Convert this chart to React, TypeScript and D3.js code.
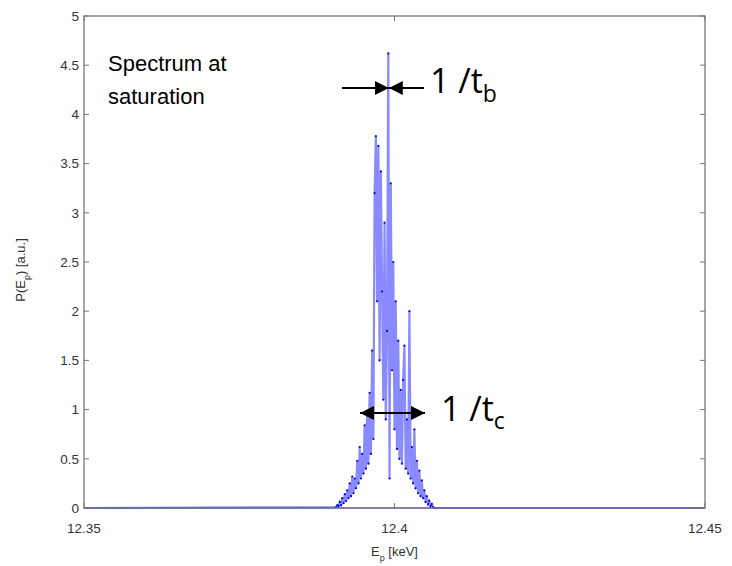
import React, { useRef, useEffect } from 'react'
import * as d3 from 'd3'

// Photon energy grid [keV] around the resonance
const energies = [
  12.35,
  12.3906, 12.3908, 12.391, 12.3912, 12.3914, 12.3916, 12.3918, 12.392, 12.3922, 12.3924,
  12.3926, 12.3928, 12.393, 12.3932, 12.3934, 12.3936, 12.3938, 12.394, 12.3942, 12.3944,
  12.3946, 12.3948, 12.395, 12.3952, 12.3954, 12.3956, 12.3958, 12.396, 12.3962, 12.3964,
  12.3966, 12.3968, 12.397, 12.3972, 12.3974, 12.3976, 12.3978, 12.398, 12.3982, 12.3984,
  12.3986, 12.3988, 12.399, 12.3992, 12.3994, 12.3996, 12.3998, 12.4, 12.4002, 12.4004,
  12.4006, 12.4008, 12.401, 12.4012, 12.4014, 12.4016, 12.4018, 12.402, 12.4022, 12.4024,
  12.4026, 12.4028, 12.403, 12.4032, 12.4034, 12.4036, 12.4038, 12.404, 12.4042, 12.4044,
  12.4046, 12.4048, 12.405, 12.4052, 12.4054, 12.4056, 12.4058, 12.406, 12.4062, 12.4064,
  12.45,
]

// Spectral power P(E_p) [a.u.]
const power = [
  0,
  0.01, 0.03, 0.02, 0.06, 0.03, 0.1, 0.05, 0.14, 0.07, 0.18,
  0.1, 0.25, 0.12, 0.32, 0.15, 0.3, 0.2, 0.48, 0.25, 0.62,
  0.3, 0.55, 0.35, 0.84, 0.4, 0.98, 0.45, 1.17, 0.55, 1.6,
  0.7, 3.2, 3.78, 2.1, 3.68, 1.5, 3.42, 2.2, 1.1, 2.9,
  0.9, 1.8, 4.62, 0.3, 3.3, 1.4, 2.5, 0.8, 2.1, 0.6,
  1.7, 0.5, 1.2, 0.45, 1.3, 1.65, 0.4, 0.9, 0.35, 2.0,
  0.3, 0.62, 0.25, 0.8, 0.2, 0.48, 0.15, 0.38, 0.12, 0.28,
  0.1, 0.18, 0.06, 0.12, 0.04, 0.07, 0.02, 0.04, 0.01, 0,
  0,
]

const xTicks = [12.35, 12.4, 12.45]
const yTicks = [0, 0.5, 1, 1.5, 2, 2.5, 3, 3.5, 4, 4.5, 5]

function App() {
  const ref = useRef<SVGSVGElement>(null)

  useEffect(() => {
    const svg = d3.select(ref.current)
    svg.selectAll('*').remove()

    const left = 84, right = 705, top = 16, bottom = 508

    const x = d3.scaleLinear().domain([12.35, 12.45]).range([left, right])
    const y = d3.scaleLinear().domain([0, 5]).range([bottom, top])

    const data = energies.map((e, i) => ({ e, p: power[i] }))

    // spectrum
    const line = d3.line<{ e: number; p: number }>()
      .x(d => x(d.e))
      .y(d => y(d.p))

    svg.append('path')
      .datum(data)
      .attr('d', line)
      .attr('fill', 'none')
      .attr('stroke', '#2a2aff')
      .attr('stroke-opacity', 0.55)
      .attr('stroke-width', 2.2)
      .attr('stroke-linejoin', 'miter')

    svg.append('g')
      .selectAll('circle')
      .data(data.slice(1, -1))
      .join('circle')
      .attr('cx', d => x(d.e))
      .attr('cy', d => y(d.p))
      .attr('r', 1.1)
      .attr('fill', '#0000dd')

    // baseline trace
    svg.append('line')
      .attr('x1', left).attr('x2', right)
      .attr('y1', y(0)).attr('y2', y(0))
      .attr('stroke', '#3030ff')
      .attr('stroke-width', 1.2)

    // frame
    svg.append('rect')
      .attr('x', left).attr('y', top)
      .attr('width', right - left).attr('height', bottom - top)
      .attr('fill', 'none')
      .attr('stroke', '#777')
      .attr('stroke-width', 1.3)

    const tickLen = 5
    const font = 'Liberation Sans, Arial, sans-serif'

    // y ticks
    const yg = svg.append('g')
    yTicks.forEach(t => {
      yg.append('line')
        .attr('x1', left).attr('x2', left + tickLen)
        .attr('y1', y(t)).attr('y2', y(t))
        .attr('stroke', '#777')
      yg.append('line')
        .attr('x1', right).attr('x2', right - tickLen)
        .attr('y1', y(t)).attr('y2', y(t))
        .attr('stroke', '#777')
      yg.append('text')
        .attr('x', left - 5)
        .attr('y', y(t))
        .attr('dy', '0.35em')
        .attr('text-anchor', 'end')
        .style('font-family', font)
        .style('font-size', '13.5px')
        .style('fill', '#333')
        .text(String(t))
    })

    // x ticks
    const xg = svg.append('g')
    xTicks.forEach(t => {
      xg.append('line')
        .attr('x1', x(t)).attr('x2', x(t))
        .attr('y1', bottom).attr('y2', bottom - tickLen)
        .attr('stroke', '#777')
      xg.append('line')
        .attr('x1', x(t)).attr('x2', x(t))
        .attr('y1', top).attr('y2', top + tickLen)
        .attr('stroke', '#777')
      xg.append('text')
        .attr('x', x(t))
        .attr('y', 533)
        .attr('text-anchor', 'middle')
        .style('font-family', font)
        .style('font-size', '13.5px')
        .style('fill', '#333')
        .text(String(t))
    })

    // axis labels
    const xl = svg.append('text')
      .attr('x', (left + right) / 2)
      .attr('y', 556)
      .attr('text-anchor', 'middle')
      .style('font-family', font)
      .style('font-size', '13px')
      .style('fill', '#333')
    xl.append('tspan').text('E')
    xl.append('tspan').attr('dy', 5).style('font-size', '9px').text('p')
    xl.append('tspan').attr('dy', -5).text(' [keV]')

    const yl = svg.append('text')
      .attr('transform', `translate(25, ${(top + bottom) / 2 + 8}) rotate(-90)`)
      .attr('text-anchor', 'middle')
      .style('font-family', font)
      .style('font-size', '13px')
      .style('fill', '#333')
    yl.append('tspan').text('P(E')
    yl.append('tspan').attr('dy', 5).style('font-size', '9px').text('p')
    yl.append('tspan').attr('dy', -5).text(') [a.u.]')

    // annotations
    svg.append('text')
      .attr('x', 108).attr('y', 71)
      .style('font-family', font)
      .style('font-size', '22px')
      .style('fill', '#000')
      .text('Spectrum at')
    svg.append('text')
      .attr('x', 108).attr('y', 104)
      .style('font-family', font)
      .style('font-size', '22px')
      .style('fill', '#000')
      .text('saturation')

    const defs = svg.append('defs')
    defs.append('marker')
      .attr('id', 'head')
      .attr('viewBox', '0 0 10 10')
      .attr('refX', 10).attr('refY', 5)
      .attr('markerWidth', 7).attr('markerHeight', 7)
      .attr('markerUnits', 'strokeWidth')
      .attr('orient', 'auto-start-reverse')
      .append('path')
      .attr('d', 'M0,0 L10,5 L0,10 Z')
      .attr('fill', '#000')

    const peakX = x(energies[power.indexOf(d3.max(power) as number)]) + 0.5
    svg.append('line')
      .attr('x1', 342).attr('x2', peakX)
      .attr('y1', 88).attr('y2', 88)
      .attr('stroke', '#000').attr('stroke-width', 2)
      .attr('marker-end', 'url(#head)')
    svg.append('line')
      .attr('x1', 424).attr('x2', peakX)
      .attr('y1', 88).attr('y2', 88)
      .attr('stroke', '#000').attr('stroke-width', 2)
      .attr('marker-end', 'url(#head)')

    svg.append('line')
      .attr('x1', 360).attr('x2', 425)
      .attr('y1', 413).attr('y2', 413)
      .attr('stroke', '#000').attr('stroke-width', 2)
      .attr('marker-start', 'url(#head)')
      .attr('marker-end', 'url(#head)')

    const annFont = 'Open Sans, Noto Sans, sans-serif'
    const tb = svg.append('text')
      .attr('x', 430).attr('y', 93)
      .style('font-family', annFont)
      .style('font-size', '34px')
      .style('fill', '#000')
    tb.append('tspan').text('1 /t')
    tb.append('tspan').attr('dy', 9).style('font-size', '23px').text('b')

    const tc = svg.append('text')
      .attr('x', 441).attr('y', 421)
      .style('font-family', annFont)
      .style('font-size', '34px')
      .style('fill', '#000')
    tc.append('tspan').text('1 /t')
    tc.append('tspan').attr('dy', 8).style('font-size', '23px').text('c')
  }, [])

  return (
    <svg
      ref={ref}
      width={732}
      height={566}
      style={{ position: 'absolute', left: 0, top: 0, background: '#fff' }}
    />
  )
}

export default App
